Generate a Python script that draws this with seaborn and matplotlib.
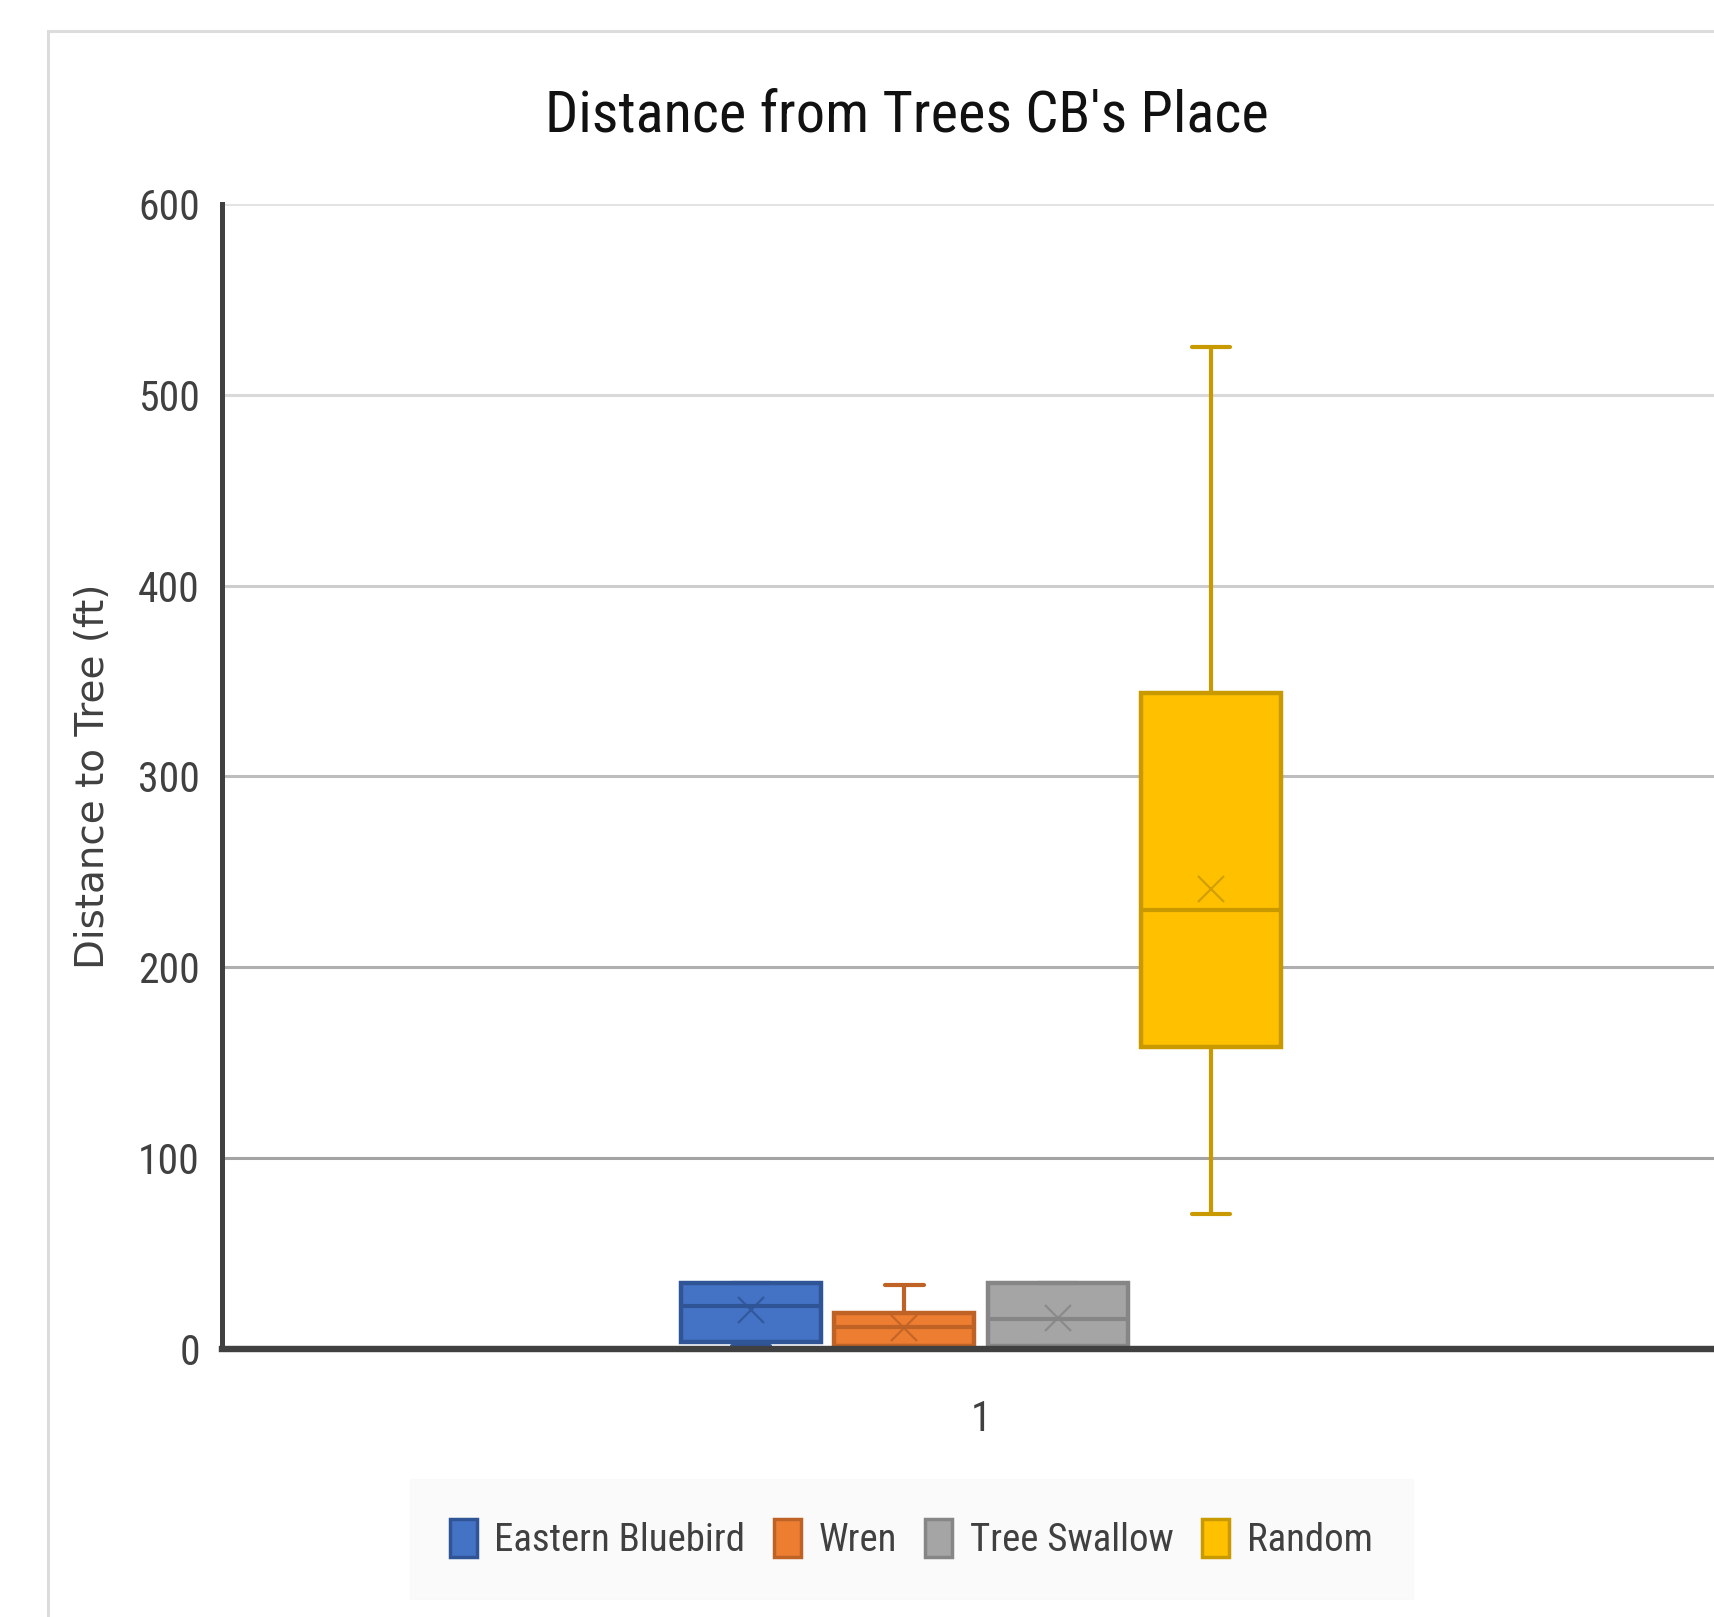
import numpy as np
import pandas as pd
import seaborn as sns
import matplotlib
matplotlib.use("Agg")
import matplotlib.pyplot as plt
from matplotlib import font_manager
from matplotlib.patches import Patch, Rectangle

# Five-number summaries (min, Q1, median, Q3, max) and means, distance in ft
species = ["Eastern Bluebird", "Wren", "Tree Swallow", "Random"]
bluebird = [1.5, 3.7, 22.5, 34.5, 34.5]
wren = [1.6, 1.6, 11.5, 18.9, 33.5]
swallow = [1.6, 1.6, 15.7, 34.5, 34.5]
random_pts = [71, 158, 230, 344, 525]
means = [20.5, 11.0, 16.0, 241.0]
category = "1"
y_ticks = [0, 100, 200, 300, 400, 500, 600]

fills = ["#4472C4", "#ED7D31", "#A5A5A5", "#FFC000"]
edges = ["#2F5597", "#BE6226", "#868686", "#C99A00"]

sns.set_style("white")


def narrow_font():
    """Pick the narrowest installed sans face for the chart text."""
    fonts = font_manager.fontManager.ttflist
    for f in fonts:
        if f.name in ("Liberation Sans Narrow", "Roboto Condensed", "Open Sans Condensed"):
            return font_manager.FontProperties(family=f.name), True
    for name in ("DejaVu Sans", "Noto Sans", "Roboto", "Open Sans"):
        for f in fonts:
            if f.name == name and f.stretch in ("condensed", "semi-condensed", "extra-condensed") \
                    and f.weight in (400, "normal", "regular") and f.style == "normal":
                return font_manager.FontProperties(family=name, stretch=f.stretch), True
    return font_manager.FontProperties(family="Liberation Sans"), False


base_fp, is_narrow = narrow_font()
plt.rcParams["font.family"] = [base_fp.get_family()[0], "DejaVu Sans"]
plt.rcParams["font.stretch"] = base_fp.get_stretch()
scale = 1.0 if is_narrow else 0.86

W, H = 1714, 1617
fig = plt.figure(figsize=(W / 100, H / 100), dpi=100)
fig.patch.set_facecolor("white")

left, right, top, bottom = 222, 1740, 204, 1349
ax = fig.add_axes([left / W, 1 - bottom / H, (right - left) / W, (bottom - top) / H])

df = pd.DataFrame({
    "group": [category] * 20,
    "species": np.repeat(species, 5),
    "distance": bluebird + wren + swallow + random_pts,
})

sns.boxplot(data=df, x="group", y="distance", hue="species", hue_order=species,
            palette=fills, width=0.404, gap=0.087, whis=(0, 100), linewidth=3.2,
            saturation=1, legend=False, ax=ax)

cap_half = 0.0128
for cont, ec in zip(ax.containers, edges):
    for b in cont.boxes:
        b.set_edgecolor(ec)
        b.set_linewidth(3.2)
    for ln in list(cont.whiskers) + list(cont.medians):
        ln.set_color(ec)
        ln.set_linewidth(3)
    for ln in list(cont.caps):
        ln.set_color(ec)
        ln.set_linewidth(3)
        xd = np.asarray(ln.get_xdata(), dtype=float)
        c = xd.mean()
        ln.set_xdata([c - cap_half, c + cap_half])

# Mean markers at the dodged box centres
offsets = (np.arange(4) - 1.5) * 0.404 / 4
for off, m, ec in zip(offsets, means, edges):
    ax.plot([off], [m], marker="x", markersize=19, markeredgewidth=1.6,
            color=ec, alpha=0.85, linestyle="none", zorder=5)

ax.set_xlim(-0.5, 0.5)
ax.set_ylim(0, 600)
ax.set_yticks(y_ticks)
ax.set_xticks([0])
ax.set_xticklabels([category])
ax.set_xlabel("")
ax.tick_params(axis="y", length=0, pad=16, labelsize=30 * scale, labelcolor="#404040")
ax.tick_params(axis="x", length=0, pad=36, labelsize=30 * scale, labelcolor="#404040")

ax.set_axisbelow(True)
ax.yaxis.grid(True, linewidth=2.2)
grid_cols = ["#ffffff", "#a3a3a3", "#afafaf", "#bdbdbd", "#cdcdcd", "#d9d9d9", "#e3e3e3"]
for gl, gc in zip(ax.yaxis.get_gridlines(), grid_cols):
    gl.set_color(gc)
ax.xaxis.grid(False)

for s in ["top", "right"]:
    ax.spines[s].set_visible(False)
ax.spines["left"].set_color("#404040")
ax.spines["left"].set_linewidth(3.6)
ax.spines["bottom"].set_color("#404040")
ax.spines["bottom"].set_linewidth(4.6)

ax.set_ylabel("Distance to Tree (ft)", family="DejaVu Sans", stretch="normal",
              fontsize=28, color="#404040")
ax.yaxis.set_label_coords((93 - left) / (right - left), 0.5)
ax.yaxis.label.set_verticalalignment("center")

fig.text(907 / W, 1 - 132 / H, "Distance from Trees CB's Place", ha="center",
         va="baseline", fontsize=42 * scale, color="#111111")

fs_leg = 28 * scale
px = fs_leg * 100 / 72
handles = [Patch(facecolor=f, edgecolor=e, linewidth=2.5, label=s)
           for s, f, e in zip(species, fills, edges)]
leg = fig.legend(handles=handles, loc="center", bbox_to_anchor=(911 / W, 1 - 1539 / H),
                 ncol=4, fontsize=fs_leg, frameon=True, fancybox=False,
                 handlelength=27 / px, handleheight=44 / px, handletextpad=18 / px,
                 columnspacing=28 / px, borderpad=40 / px, borderaxespad=0)
leg.get_frame().set_facecolor("#f9f9f9")
leg.get_frame().set_edgecolor("#f9f9f9")
for t in leg.get_texts():
    t.set_color("#404040")

# Chart-area outline
fig.patches.append(Rectangle((48 / W, -0.2), 2.0, 1 - 31 / H + 0.2, transform=fig.transFigure,
                             fill=False, edgecolor="#dcdcdc", linewidth=2.2, zorder=0))

fig.savefig("out.png", dpi=100)
